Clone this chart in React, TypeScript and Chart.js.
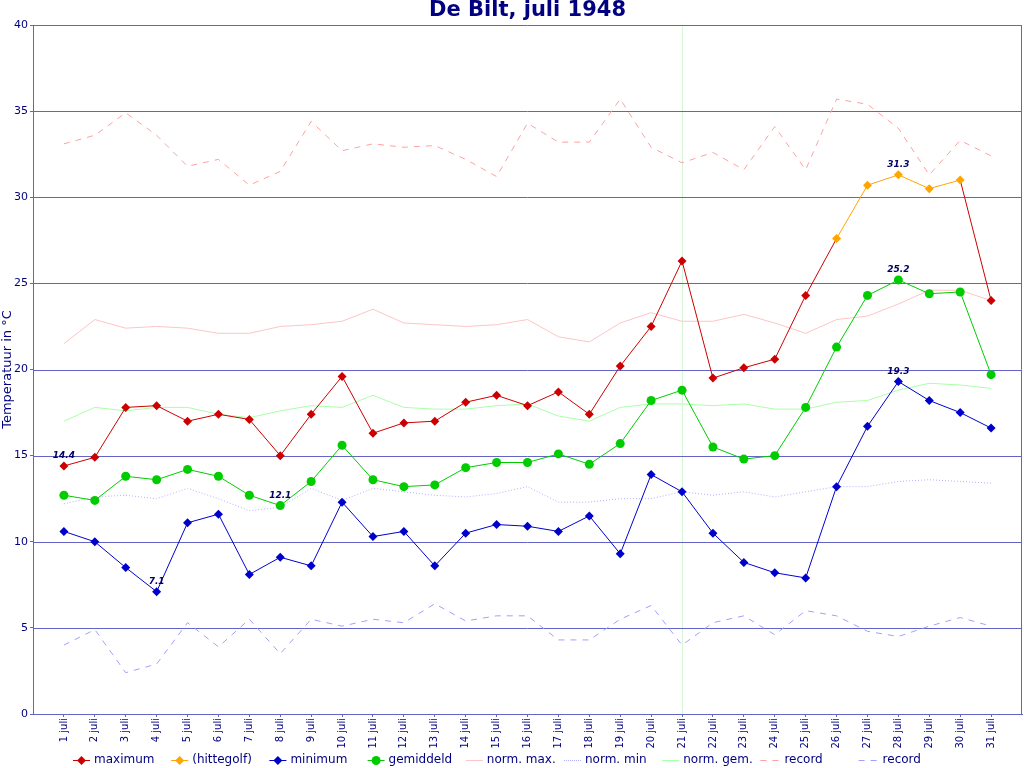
import { useEffect, useRef } from 'react';
import { Chart, registerables } from 'chart.js';

Chart.register(...registerables);
Chart.defaults.font.family = "'DejaVu Sans', sans-serif";

// July 1948, De Bilt
const days = [1, 2, 3, 4, 5, 6, 7, 8, 9, 10, 11, 12, 13, 14, 15, 16, 17, 18, 19, 20, 21, 22, 23, 24, 25, 26, 27, 28, 29, 30, 31];
const maxT = [14.4, 14.9, 17.8, 17.9, 17.0, 17.4, 17.1, 15.0, 17.4, 19.6, 16.3, 16.9, 17.0, 18.1, 18.5, 17.9, 18.7, 17.4, 20.2, 22.5, 26.3, 19.5, 20.1, 20.6, 24.3, 27.6, 30.7, 31.3, 30.5, 31.0, 24.0];
const heatwave = [null, null, null, null, null, null, null, null, null, null, null, null, null, null, null, null, null, null, null, null, null, null, null, null, null, 27.6, 30.7, 31.3, 30.5, 31.0, null];
const minT = [10.6, 10.0, 8.5, 7.1, 11.1, 11.6, 8.1, 9.1, 8.6, 12.3, 10.3, 10.6, 8.6, 10.5, 11.0, 10.9, 10.6, 11.5, 9.3, 13.9, 12.9, 10.5, 8.8, 8.2, 7.9, 13.2, 16.7, 19.3, 18.2, 17.5, 16.6];
const avgT = [12.7, 12.4, 13.8, 13.6, 14.2, 13.8, 12.7, 12.1, 13.5, 15.6, 13.6, 13.2, 13.3, 14.3, 14.6, 14.6, 15.1, 14.5, 15.7, 18.2, 18.8, 15.5, 14.8, 15.0, 17.8, 21.3, 24.3, 25.2, 24.4, 24.5, 19.7];
const normMax = [21.5, 22.9, 22.4, 22.5, 22.4, 22.1, 22.1, 22.5, 22.6, 22.8, 23.5, 22.7, 22.6, 22.5, 22.6, 22.9, 21.9, 21.6, 22.7, 23.3, 22.8, 22.8, 23.2, 22.7, 22.1, 22.9, 23.1, 23.8, 24.6, 24.6, 24.0];
const normMin = [12.2, 12.6, 12.7, 12.5, 13.1, 12.5, 11.8, 12.0, 13.1, 12.4, 13.1, 12.9, 12.7, 12.6, 12.8, 13.2, 12.3, 12.3, 12.5, 12.5, 12.9, 12.7, 12.9, 12.6, 12.9, 13.2, 13.2, 13.5, 13.6, 13.5, 13.4];
const normAvg = [17.0, 17.8, 17.6, 17.8, 17.8, 17.4, 17.2, 17.6, 17.9, 17.8, 18.5, 17.8, 17.7, 17.7, 17.9, 18.0, 17.3, 17.0, 17.8, 18.0, 18.0, 17.9, 18.0, 17.7, 17.7, 18.1, 18.2, 18.8, 19.2, 19.1, 18.9];
const recordMax = [33.1, 33.6, 34.9, 33.6, 31.8, 32.2, 30.7, 31.5, 34.4, 32.7, 33.1, 32.9, 33.0, 32.2, 31.2, 34.3, 33.2, 33.2, 35.7, 32.9, 32.0, 32.6, 31.6, 34.1, 31.6, 35.7, 35.4, 34.0, 31.3, 33.3, 32.4];
const recordMin = [4.0, 4.9, 2.4, 2.9, 5.3, 3.9, 5.5, 3.5, 5.5, 5.1, 5.5, 5.3, 6.4, 5.4, 5.7, 5.7, 4.3, 4.3, 5.5, 6.3, 4.0, 5.3, 5.7, 4.6, 6.0, 5.7, 4.8, 4.5, 5.1, 5.6, 5.1];
const yTicks = [0, 5, 10, 15, 20, 25, 30, 35, 40];
const todayMark = 21;

const NAVY = '#000080';
const FRAME = '#6464c8';

const pts = (vals: (number | null)[]) => days.map((d, i) => ({ x: d, y: vals[i] }));
const inHeat = (i: number) => heatwave[i] !== null && heatwave[i] !== undefined;

const extras = {
  id: 'extras',
  beforeDatasetsDraw(chart: any) {
    const { ctx, chartArea: a, scales } = chart;
    ctx.save();
    ctx.strokeStyle = FRAME;
    ctx.lineWidth = 1;
    ctx.beginPath();
    yTicks.forEach((v) => {
      const py = Math.round(scales.y.getPixelForValue(v)) + 0.5;
      ctx.moveTo(a.left, py);
      ctx.lineTo(a.right, py);
    });
    const rx = Math.round(a.right) - 0.5;
    ctx.moveTo(rx, a.top);
    ctx.lineTo(rx, a.bottom);
    ctx.stroke();
    ctx.restore();
  },
  afterDraw(chart: any) {
    const { ctx, chartArea: a } = chart;
    ctx.save();

    // title
    ctx.fillStyle = NAVY;
    ctx.font = "bold 21px 'DejaVu Sans'";
    ctx.textAlign = 'center';
    ctx.textBaseline = 'middle';
    ctx.fillText('De Bilt, juli 1948', (a.left + a.right) / 2, 11);

    // extreme value labels
    ctx.font = "italic bold 9px 'DejaVu Sans'";
    ctx.fillStyle = '#000066';
    [
      { ds: 0, values: maxT },
      { ds: 2, values: minT },
      { ds: 3, values: avgT }
    ].forEach(({ ds, values }) => {
      const meta = chart.getDatasetMeta(ds);
      [Math.max(...values), Math.min(...values)].forEach((v) => {
        const i = values.indexOf(v);
        const p = meta.data[i];
        ctx.fillText(v.toFixed(1), p.x, p.y - 10);
      });
    });

    // legend
    const y = chart.height - 8;
    ctx.font = "12px 'DejaVu Sans'";
    ctx.textAlign = 'left';
    chart.data.datasets.forEach((ds: any, i: number) => {
      const x0 = 73 + i * 98.2;
      const dashed = ds.legendDash && ds.legendDash[0] > 2;
      const len = dashed ? 20 : 17;
      ctx.strokeStyle = ds.borderColor;
      ctx.lineWidth = 1;
      ctx.setLineDash(ds.legendDash || []);
      ctx.beginPath();
      ctx.moveTo(x0, y + 0.5);
      ctx.lineTo(x0 + len, y + 0.5);
      ctx.stroke();
      ctx.setLineDash([]);
      if (ds.markerSize) {
        const cx = x0 + len / 2;
        const r = ds.markerSize;
        ctx.fillStyle = ds.backgroundColor;
        ctx.beginPath();
        if (ds.pointStyle === 'circle') {
          ctx.arc(cx, y + 0.5, r, 0, Math.PI * 2);
        } else {
          ctx.moveTo(cx, y + 0.5 - r);
          ctx.lineTo(cx + r, y + 0.5);
          ctx.lineTo(cx, y + 0.5 + r);
          ctx.lineTo(cx - r, y + 0.5);
          ctx.closePath();
        }
        ctx.fill();
      }
      ctx.fillStyle = NAVY;
      ctx.textBaseline = 'middle';
      ctx.fillText(ds.label, x0 + len + 4, y);
    });
    ctx.restore();
  }
};

export default function App() {
  const canvasRef = useRef<HTMLCanvasElement | null>(null);
  const chartRef = useRef<Chart | null>(null);

  useEffect(() => {
    if (!canvasRef.current) return;
    if (chartRef.current) chartRef.current.destroy();

    const line = (label: string, data: (number | null)[], color: string, extra: any = {}) => ({
      label,
      data: pts(data),
      borderColor: color,
      backgroundColor: color,
      borderWidth: 1,
      pointRadius: 0,
      pointHoverRadius: 0,
      pointBorderWidth: 0,
      spanGaps: false,
      ...extra
    });

    chartRef.current = new Chart(canvasRef.current, {
      type: 'line',
      data: {
        datasets: [
          line('maximum', maxT, '#cc0000', {
            pointStyle: 'rectRot',
            markerSize: 4.5,
            pointRadius: (c: any) => (inHeat(c.dataIndex) ? 0 : 4.5),
            segment: {
              borderColor: (c: any) => (inHeat(c.p0DataIndex) && inHeat(c.p1DataIndex) ? 'rgba(0,0,0,0)' : '#cc0000')
            },
            order: 2
          }),
          line('(hittegolf)', heatwave, '#ffa500', { pointStyle: 'rectRot', markerSize: 4.5, pointRadius: 4.5, order: 1 }),
          line('minimum', minT, '#0000cc', { pointStyle: 'rectRot', markerSize: 4.5, pointRadius: 4.5, order: 2 }),
          line('gemiddeld', avgT, '#00cc00', { pointStyle: 'circle', markerSize: 4.5, pointRadius: 4.5, order: 2 }),
          line('norm. max.', normMax, '#ffc4c4', { order: 5 }),
          line('norm. min', normMin, '#b0b0ff', { borderDash: [1, 2], legendDash: [1, 1], order: 5 }),
          line('norm. gem.', normAvg, '#aaffaa', { order: 5 }),
          line('record', recordMax, '#ffa0a0', { borderDash: [6, 6], legendDash: [6, 6], order: 5 }),
          line('record', recordMin, '#a0a0ff', { borderDash: [6, 6], legendDash: [6, 6], order: 5 })
        ]
      },
      options: {
        responsive: true,
        maintainAspectRatio: false,
        animation: false,
        layout: { autoPadding: false, padding: { top: 25, right: 2, bottom: 20, left: 0 } },
        elements: { line: { tension: 0 } },
        scales: {
          x: {
            type: 'linear',
            min: 0,
            max: 32,
            afterBuildTicks: (s: any) => {
              s.ticks = days.map((d) => ({ value: d }));
            },
            afterFit: (s: any) => {
              s.height = 34;
              s.paddingLeft = 0;
              s.paddingRight = 0;
            },
            ticks: {
              color: NAVY,
              font: { size: 10 },
              minRotation: 90,
              maxRotation: 90,
              autoSkip: false,
              padding: 1,
              callback: (v: any) => `${v} juli`
            },
            grid: {
              color: (c: any) => (c.tick && c.tick.value === todayMark ? '#d6f5d6' : 'rgba(0,0,0,0)'),
              tickColor: FRAME,
              tickLength: 3,
              drawTicks: true
            },
            border: { color: FRAME }
          },
          y: {
            min: 0,
            max: 40,
            afterBuildTicks: (s: any) => {
              s.ticks = yTicks.map((v) => ({ value: v }));
            },
            afterFit: (s: any) => {
              s.width = 33;
            },
            ticks: { color: NAVY, font: { size: 11 }, padding: 2 },
            grid: { drawOnChartArea: false, color: FRAME, tickColor: FRAME, tickLength: 3 },
            border: { color: FRAME },
            title: {
              display: true,
              text: 'Temperatuur in °C',
              color: NAVY,
              font: { size: 13 },
              padding: { top: 0, bottom: 0 }
            }
          }
        },
        plugins: {
          legend: { display: false },
          title: { display: false },
          tooltip: { enabled: false }
        }
      },
      plugins: [extras]
    });

    return () => {
      if (chartRef.current) {
        chartRef.current.destroy();
        chartRef.current = null;
      }
    };
  }, []);

  return (
    <div style={{ position: 'absolute', left: 0, top: 0, width: '1024px', height: '768px', background: '#fff' }}>
      <canvas ref={canvasRef} aria-label="De Bilt, juli 1948" />
    </div>
  );
}
